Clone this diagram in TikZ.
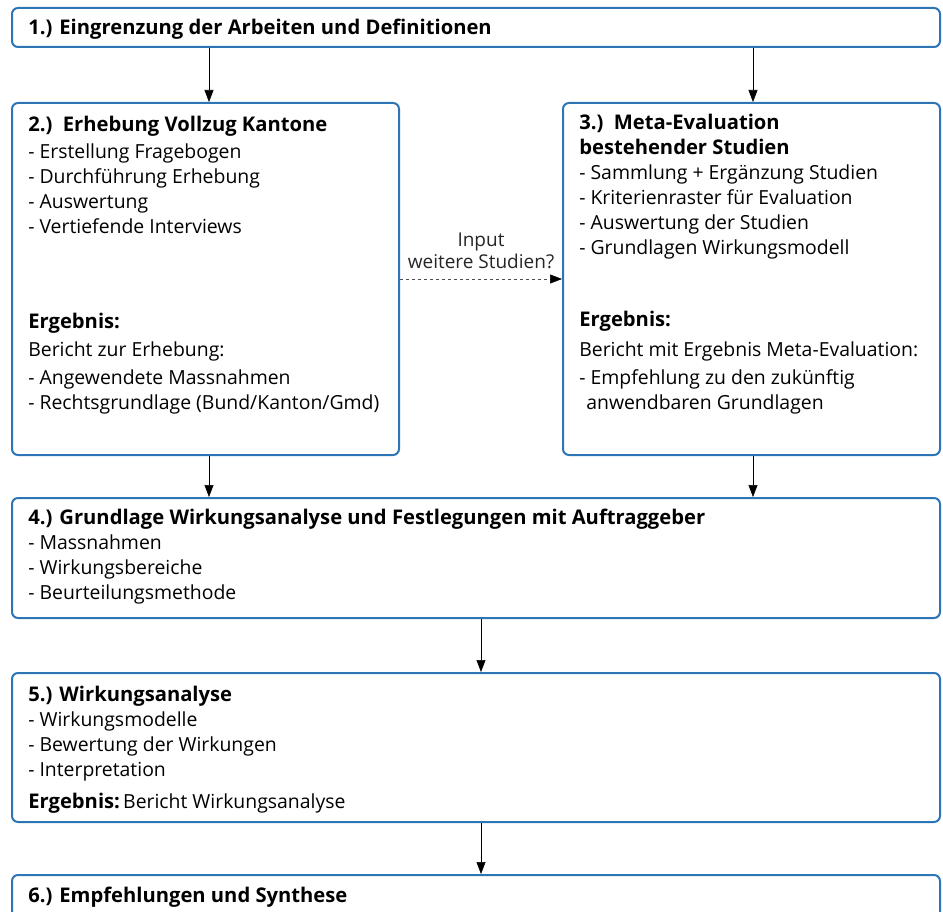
\documentclass[tikz,border=0pt]{standalone}
\usepackage{fontspec}
\setmainfont{Open Sans}
\usetikzlibrary{arrows.meta}
\definecolor{boxblue}{RGB}{46,117,182}
\newcommand{\hd}[1]{{\fontsize{20.2}{25}\selectfont\bfseries #1}}

\begin{document}
\begin{tikzpicture}[x=1pt,y=-1pt,line width=.6pt,
    box/.style={draw=boxblue,line width=2pt,rounded corners=6pt,inner sep=0pt},
    txt/.style={anchor=north west,inner sep=0pt,align=left,font=\fontsize{19.4}{25}\selectfont},
    arr/.style={-{Triangle[length=12pt,width=9pt,color=black]}}]
  \useasboundingbox (0,0) rectangle (943,912);

  \node[box,minimum width=928,minimum height=39] (S1) at (476,27.5) {};
  \node[box,minimum width=387,minimum height=352] (S2) at (205.5,279) {};
  \node[box,minimum width=377,minimum height=352] (S3) at (751.5,279) {};
  \node[box,minimum width=928,minimum height=120] (S4) at (476,558) {};
  \node[box,minimum width=928,minimum height=149] (S5) at (476,747.5) {};
  \node[box,minimum width=928,minimum height=60] (S6) at (476,905) {};

  \node[txt] (T1) at (28,16.5) {\strut\hd{1.) Eingrenzung der Arbeiten und Definitionen}};
  \node[txt] (T2) at (28,113.5) {\strut\hd{2.)\ \ Erhebung Vollzug Kantone}\\[2pt]
    - Erstellung Fragebogen\\ - Durchführung Erhebung\\ - Auswertung\\ - Vertiefende Interviews};
  \node[txt] (E2) at (28,310.5) {\strut\hd{Ergebnis:}\\[3pt] Bericht zur Erhebung:\\[3pt]
    - Angewendete Massnahmen\\ - Rechtsgrundlage (Bund/Kanton/Gmd)};
  \node[txt] (T3) at (579,111.5) {\strut\hd{3.)\ \ Meta-Evaluation}\\ \hd{bestehender Studien}\\
    - Sammlung + Ergänzung Studien\\ - Kriterienraster für Evaluation\\
    - Auswertung der Studien\\ - Grundlagen Wirkungsmodell};
  \node[txt] (E3) at (579,308.5) {\strut\hd{Ergebnis:}\\[5pt] Bericht mit Ergebnis Meta-Evaluation:\\[3pt]
    - Empfehlung zu den zukünftig\\ \hspace*{7pt}anwendbaren Grundlagen};
  \node[txt] (T4) at (28,506.5) {\strut\hd{4.) Grundlage Wirkungsanalyse und Festlegungen mit Auftraggeber}\\
    - Massnahmen\\ - Wirkungsbereiche\\ - Beurteilungsmethode};
  \node[txt] (T5) at (28,683.5) {\strut\hd{5.) Wirkungsanalyse}\\
    - Wirkungsmodelle\\ - Bewertung der Wirkungen\\ - Interpretation\\[7pt]
    \hd{Ergebnis:}\,Bericht Wirkungsanalyse};
  \node[txt] (T6) at (28,884.5) {\strut\hd{6.) Empfehlungen und Synthese}};

  \draw[arr] ([xshift=3.5pt]S2.north |- S1.south) -- ([xshift=3.5pt]S2.north);
  \draw[arr] ([xshift=1.5pt]S3.north |- S1.south) -- ([xshift=1.5pt]S3.north);
  \draw[arr] ([xshift=3.5pt]S2.south) -- ([xshift=3.5pt]S2.south |- S4.north);
  \draw[arr] ([xshift=1.5pt]S3.south) -- ([xshift=1.5pt]S3.south |- S4.north);
  \draw[arr] ([xshift=5pt]S4.south) -- ([xshift=5pt]S5.north);
  \draw[arr] ([xshift=5pt]S5.south) -- ([xshift=5pt]S6.north);
  \draw[arr,dashed,black!70] (S2.east) -- (S3.west)
    node[midway,anchor=south,inner sep=0pt,yshift=10pt,align=center,text=black!85,
      font=\fontsize{19}{22}\selectfont] (L) {Input\\weitere Studien?};
\end{tikzpicture}
\end{document}
